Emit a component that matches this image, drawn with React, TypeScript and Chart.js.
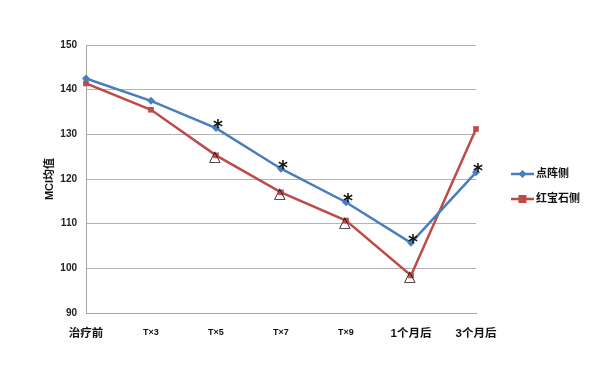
import React, { useEffect, useRef } from "react";
import { Chart, registerables } from "chart.js";

Chart.register(...registerables);

const categories = ["治疗前", "T×3", "T×5", "T×7", "T×9", "1个月后", "3个月后"];
const dotSeries = [142.5, 137.5, 131.4, 122.3, 114.8, 105.7, 121.5];
const rubySeries = [141.4, 135.5, 125.3, 117.0, 110.7, 98.4, 131.2];
const starIdx = [2, 3, 4, 5, 6];
const triIdx = [2, 3, 4, 5];
const yTicks = [90, 100, 110, 120, 130, 140, 150];

const FONT = "'Liberation Sans', 'Noto Sans CJK SC', sans-serif";
const BLUE = "#4a7ebb";
const RED = "#be4b48";

function centeredText(ctx: any, txt: string, cx: number, cy: number) {
  const m = ctx.measureText(txt);
  const w = m.actualBoundingBoxLeft + m.actualBoundingBoxRight;
  const h = m.actualBoundingBoxAscent + m.actualBoundingBoxDescent;
  const x = cx - w / 2 + m.actualBoundingBoxLeft;
  const y = cy - h / 2 + m.actualBoundingBoxAscent;
  ctx.fillText(txt, x, y);
}

const markPlugin = {
  id: "marks",
  afterDatasetsDraw(chart: any) {
    const ctx = chart.ctx;
    const x = chart.scales.x;
    const y = chart.scales.y;
    ctx.save();
    ctx.textAlign = "left";
    ctx.textBaseline = "alphabetic";
    ctx.fillStyle = "#111";
    ctx.font = `bold 19px 'DejaVu Sans', sans-serif`;
    starIdx.forEach((i) => {
      centeredText(ctx, "*", x.getPixelForValue(i) + 2, y.getPixelForValue(dotSeries[i]) - 4);
    });
    ctx.font = `15px 'DejaVu Sans', sans-serif`;
    ctx.fillStyle = "#111";
    triIdx.forEach((i) => {
      centeredText(ctx, "△", x.getPixelForValue(i) - 1, y.getPixelForValue(rubySeries[i]) + 2);
    });
    ctx.restore();
  },
  afterDraw(chart: any) {
    const ctx = chart.ctx;
    ctx.save();
    const items = [
      { label: "点阵侧", color: BLUE, y: 174, shape: "diamond" },
      { label: "红宝石侧", color: RED, y: 199, shape: "square" },
    ];
    items.forEach((it) => {
      ctx.strokeStyle = it.color;
      ctx.lineWidth = 2.5;
      ctx.beginPath();
      ctx.moveTo(511, it.y);
      ctx.lineTo(534, it.y);
      ctx.stroke();
      ctx.fillStyle = it.color;
      if (it.shape === "diamond") {
        ctx.beginPath();
        ctx.moveTo(522.5, it.y - 4);
        ctx.lineTo(526.5, it.y);
        ctx.lineTo(522.5, it.y + 4);
        ctx.lineTo(518.5, it.y);
        ctx.closePath();
        ctx.fill();
      } else {
        ctx.fillRect(518.5, it.y - 4, 8, 8);
      }
      ctx.fillStyle = "#111";
      ctx.font = `bold 11px ${FONT}`;
      ctx.textAlign = "left";
      ctx.textBaseline = "middle";
      ctx.fillText(it.label, 536, it.y);
    });
    ctx.restore();
  },
};

export default function App() {
  const ref = useRef<HTMLCanvasElement>(null);
  useEffect(() => {
    document.body.style.margin = "0";
    const chart = new Chart(ref.current!, {
      type: "line",
      data: {
        labels: categories,
        datasets: [
          {
            label: "点阵侧",
            data: dotSeries,
            borderColor: BLUE,
            backgroundColor: BLUE,
            borderWidth: 2.5,
            pointStyle: "rectRot",
            pointRadius: 4,
            pointBorderWidth: 0,
            tension: 0,
          },
          {
            label: "红宝石侧",
            data: rubySeries,
            borderColor: RED,
            backgroundColor: RED,
            borderWidth: 2.5,
            pointStyle: "rect",
            pointRadius: 4,
            pointBorderWidth: 0,
            tension: 0,
          },
        ],
      },
      options: {
        animation: false,
        responsive: false,
        layout: { padding: { left: 44, right: 124, top: 45, bottom: 0 } },
        plugins: {
          legend: { display: false },
          tooltip: { enabled: false },
        },
        scales: {
          x: {
            offset: false,
            grid: { display: false },
            border: { color: "#a6a6a6", width: 1 },
            afterFit: (s: any) => {
              s.height = 53;
            },
            ticks: {
              color: "#111",
              padding: 6,
              maxRotation: 0,
              autoSkip: false,
              font: (c: any) => {
                const i = c.index;
                const big = i === 0 || i === 5 || i === 6;
                return { family: FONT, size: big ? 11.5 : 9, weight: "bold" };
              },
            },
          },
          y: {
            min: 90,
            max: 150,
            afterBuildTicks: (s: any) => {
              s.ticks = yTicks.map((v) => ({ value: v }));
            },
            afterFit: (s: any) => {
              s.width = 42;
            },
            grid: { color: "#b3b3b3", lineWidth: 1, drawTicks: false },
            border: { color: "#a6a6a6", width: 1 },
            ticks: {
              color: "#222",
              padding: 9,
              font: { family: FONT, size: 10, weight: "bold" },
            },
            title: {
              display: true,
              text: "MCI均值",
              color: "#111",
              padding: 0,
              font: { family: FONT, size: 11, weight: "bold", lineHeight: 1.1 },
            },
          },
        },
      },
      plugins: [markPlugin],
    });
    return () => chart.destroy();
  }, []);
  return <canvas ref={ref} width={600} height={366} style={{ display: "block" }} />;
}
